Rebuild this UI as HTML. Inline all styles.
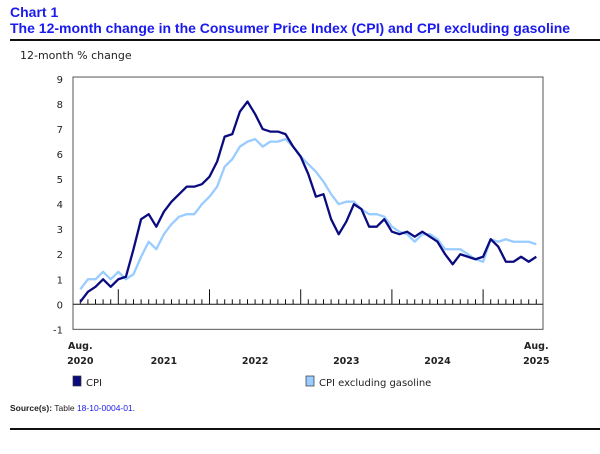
<!DOCTYPE html>
<html><head><meta charset="utf-8"><style>
body{margin:0;width:600px;height:454px;background:#fff;font-family:"Liberation Sans",sans-serif;overflow:hidden;position:relative}
.t{position:absolute;left:10px;color:#1a1aee;font-weight:bold;font-size:14px;white-space:nowrap}
</style></head><body>
<div class="t" style="top:4px">Chart 1</div>
<div class="t" style="top:20px">The 12-month change in the Consumer Price Index (CPI) and CPI excluding gasoline</div>
<div style="position:absolute;left:10px;top:39px;width:590px;height:2px;background:#111"></div>
<div style="position:absolute;left:10px;top:428px;width:590px;height:2px;background:#111"></div>
<div style="position:absolute;left:10px;top:403px;font-size:8.5px;color:#222"><b>Source(s):</b> Table <span style="color:#1a1aee">18-10-0004-01</span>.</div>
<svg id="c" width="600" height="454" style="position:absolute;left:0;top:0"></svg>
<script>
const cpi=[0.1,0.5,0.7,1.0,0.7,1.0,1.1,2.2,3.4,3.6,3.1,3.7,4.1,4.4,4.7,4.7,4.8,5.1,5.7,6.7,6.8,7.7,8.1,7.6,7.0,6.9,6.9,6.8,6.3,5.9,5.2,4.3,4.4,3.4,2.8,3.3,4.0,3.8,3.1,3.1,3.4,2.9,2.8,2.9,2.7,2.9,2.7,2.5,2.0,1.6,2.0,1.9,1.8,1.9,2.6,2.3,1.7,1.7,1.9,1.7,1.9];
const exGas=[0.6,1.0,1.0,1.3,1.0,1.3,1.0,1.2,1.9,2.5,2.2,2.8,3.2,3.5,3.6,3.6,4.0,4.3,4.7,5.5,5.8,6.3,6.5,6.6,6.3,6.5,6.5,6.6,6.3,5.9,5.6,5.3,4.9,4.4,4.0,4.1,4.1,3.8,3.6,3.6,3.5,3.1,2.9,2.8,2.5,2.8,2.8,2.6,2.2,2.2,2.2,2.0,1.8,1.7,2.6,2.5,2.6,2.5,2.5,2.5,2.4];
const yTicks=[9,8,7,6,5,4,3,2,1,0,-1];
const years=["2021","2022","2023","2024"];
const S=document.getElementById('c'),NS='http://www.w3.org/2000/svg';
const X=i=>80.3+i*7.6, Y=v=>304.3-v*25.03;
function el(t,a,txt){const e=document.createElementNS(NS,t);for(const k in a)e.setAttribute(k,a[k]);if(txt!==undefined)e.textContent=txt;S.appendChild(e);return e;}
let e;
e=el('rect',{x:73,y:Y(9)-2,width:470,height:Y(-1)-Y(9)+2,fill:'none',stroke:'#555','stroke-width':1});


e=el('text',{x:20,y:59,'font-size':11,'font-family':'DejaVu Sans, sans-serif',fill:'#222'},'12-month % change');


yTicks.forEach(v=>{e=el('text',{x:63,y:Y(v)+4,'text-anchor':'end','font-size':10,'font-family':'DejaVu Sans, sans-serif',fill:'#222'},v);

});
e=el('line',{x1:73,x2:543,y1:Y(0),y2:Y(0),stroke:'#111','stroke-width':1});


for(let i=0;i<cpi.length;i++){const major=(i-5)%12===0&&i>=5;
e=el('line',{x1:X(i),x2:X(i),y1:Y(0),y2:Y(0)-(major?15:5),stroke:'#111','stroke-width':1});

}
function lbl(x,y,t,n){e=el('text',{x:x,y:y,'text-anchor':'middle','font-size':9.5,'font-weight':'bold','font-family':'DejaVu Sans, sans-serif',fill:'#222'},t);

}
lbl(X(0),349,'Aug.','x-label-start-month');lbl(X(0),364,'2020','x-label-start-year');
lbl(X(60),349,'Aug.','x-label-end-month');lbl(X(60),364,'2025','x-label-end-year');
years.forEach((y,k)=>lbl(X(11+12*k),364,y,'x-year-label'));
function line(d,c,n){e=el('polyline',{points:d.map((v,i)=>X(i)+','+Y(v)).join(' '),fill:'none',stroke:c,'stroke-width':2.3,'stroke-linejoin':'round'});

}
line(exGas,'#99ccff','line-cpi-ex-gasoline');
line(cpi,'#0b0b80','line-cpi');
function leg(x,c,t,n){e=el('rect',{x:x,y:376,width:8,height:10,fill:c,stroke:'#333','stroke-width':0.7});


e=el('text',{x:x+13,y:386,'font-size':10,'font-family':'DejaVu Sans, sans-serif',fill:'#222'},t);

}
leg(73,'#0b0b80','CPI','legend-cpi');
leg(306,'#99ccff','CPI excluding gasoline','legend-cpi-ex-gasoline');
</script>
</body></html>
